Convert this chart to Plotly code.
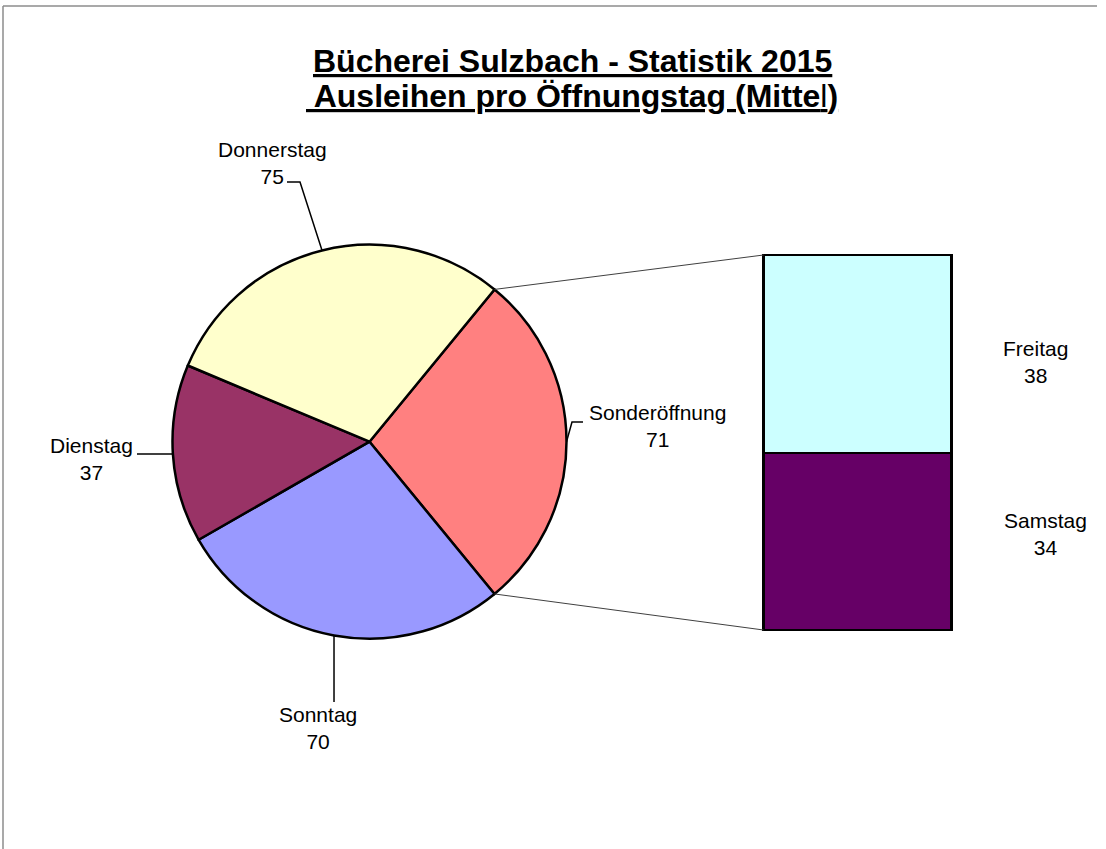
import math
import plotly.graph_objects as go

# ---------------- data ----------------
pie_labels = ["Sonntag", "Dienstag", "Donnerstag"]
pie_values = [70, 37, 75]
bar_labels = ["Freitag", "Samstag"]
bar_values = [37.6, 33.6]
other_label = "Sonderöffnung"
title_line1 = "Bücherei Sulzbach - Statistik 2015"
title_line2 = " Ausleihen pro Öffnungstag (Mitte<span style='font-weight:normal'>l</span>)"

colors = {
    "Sonderöffnung": "#FF8080",
    "Sonntag": "#9999FF",
    "Dienstag": "#993366",
    "Donnerstag": "#FFFFCC",
    "Freitag": "#CCFFFF",
    "Samstag": "#660066",
}

# ---------------- layout constants (pixels) ----------------
W, H = 1106, 849
PIE_CX, PIE_CY, PIE_R = 369.5, 441.7, 197.0
BAR_X0, BAR_X1, BAR_Y0, BAR_Y1 = 763.5, 951.5, 255.0, 630.0
PAD = 4  # extra axis room so the bar outline is not clipped
FONT = "Liberation Sans, Arial, sans-serif"
LABEL_SIZE = 21
TITLE_SIZE = 32

label_pos = {  # text centre
    "Donnerstag": (272, 163),
    "Dienstag": (91, 459),
    "Sonntag": (318, 728),
    "Sonderöffnung": (657, 426),
    "Freitag": (1035.5, 362),
    "Samstag": (1045, 534),
}
leader_pts = {  # leader points after the pie edge point (elbow..., end)
    "Donnerstag": [(300, 182), (287, 182)],
    "Dienstag": [(137, None)],
    "Sonntag": [(None, 702)],
    "Sonderöffnung": [(572, 422), (583, 422)],
}


def px(x):
    return x / W


def py(y):
    return 1 - y / H


# ---------------- derived pie geometry ----------------
other_value = sum(bar_values)
all_labels = [other_label] + pie_labels
all_values = [other_value] + pie_values
total = sum(all_values)
other_span = 360.0 * other_value / total
rotation = 90.0 - other_span / 2.0  # "other" slice centred on the right

fig = go.Figure()

fig.add_trace(go.Pie(
    labels=all_labels,
    values=all_values,
    sort=False,
    direction="clockwise",
    rotation=rotation,
    textinfo="none",
    hoverinfo="label+value",
    showlegend=False,
    marker=dict(colors=[colors[l] for l in all_labels],
                line=dict(color="black", width=2.5)),
    domain=dict(x=[px(PIE_CX - PIE_R), px(PIE_CX + PIE_R)],
                y=[py(PIE_CY + PIE_R), py(PIE_CY - PIE_R)]),
))

# stacked bar (bottom first)
for lab, val in reversed(list(zip(bar_labels, bar_values))):
    fig.add_trace(go.Bar(
        x=[0], y=[val], name=lab, width=1,
        marker=dict(color=colors[lab], line=dict(color="black", width=2.5)),
        showlegend=False, hoverinfo="name+y",
    ))


def pie_point(angle_deg):
    a = math.radians(angle_deg)
    return PIE_CX + PIE_R * math.sin(a), PIE_CY - PIE_R * math.cos(a)


shapes = []
annotations = []

# slice mid angles
start = rotation
mid_angle = {}
for lab, val in zip(all_labels, all_values):
    span = 360.0 * val / total
    mid_angle[lab] = start + span / 2.0
    start += span

# connector lines from "other" slice to bar
p_top = pie_point(rotation)
p_bot = pie_point(rotation + other_span)
for (x0, y0), (x1, y1) in [(p_top, (BAR_X0, BAR_Y0)), (p_bot, (BAR_X0, BAR_Y1))]:
    shapes.append(dict(type="line", xref="paper", yref="paper",
                       x0=px(x0), y0=py(y0), x1=px(x1), y1=py(y1),
                       line=dict(color="#404040", width=1)))

# pie labels + leaders
for lab, val in zip(all_labels, all_values):
    sx, sy = pie_point(mid_angle[lab])
    pts = [(sx, sy)]
    for (lx, ly) in leader_pts[lab]:
        pts.append((sx if lx is None else lx, sy if ly is None else ly))
    path = "M " + " L ".join(f"{px(x):.5f},{py(y):.5f}" for x, y in pts)
    shapes.append(dict(type="path", xref="paper", yref="paper", path=path,
                       line=dict(color="black", width=1.5)))
    tx, ty = label_pos[lab]
    annotations.append(dict(x=px(tx), y=py(ty), xref="paper", yref="paper",
                            text=f"{lab}<br>{val:.0f}", showarrow=False,
                            xanchor="center", yanchor="middle", align="center",
                            font=dict(family=FONT, size=LABEL_SIZE, color="black")))

for lab, val in zip(bar_labels, bar_values):
    tx, ty = label_pos[lab]
    annotations.append(dict(x=px(tx), y=py(ty), xref="paper", yref="paper",
                            text=f"{lab}<br>{val:.0f}", showarrow=False,
                            xanchor="center", yanchor="middle", align="center",
                            font=dict(family=FONT, size=LABEL_SIZE, color="black")))

# title (two lines)
for txt, ty in [(title_line1, 61), (title_line2, 96)]:
    annotations.append(dict(x=px(572), y=py(ty), xref="paper", yref="paper",
                            text=f"<u>{txt}</u>", showarrow=False,
                            xanchor="center", yanchor="middle",
                            font=dict(family=FONT, size=TITLE_SIZE, color="black",
                                      weight="bold")))

# chart border (top and left visible)
shapes.append(dict(type="line", xref="paper", yref="paper",
                   x0=px(3), y0=py(6), x1=px(1097), y1=py(6),
                   line=dict(color="#8c8c8c", width=1.5)))
shapes.append(dict(type="line", xref="paper", yref="paper",
                   x0=px(3), y0=py(6), x1=px(3), y1=py(H + 5),
                   line=dict(color="#8c8c8c", width=1.5)))

# bar axes: padded domain with matching padded range (bar keeps its pixel size)
y_per_px = other_value / (BAR_Y1 - BAR_Y0)
x_per_px = 1.0 / (BAR_X1 - BAR_X0)

fig.update_layout(
    width=W, height=H,
    margin=dict(l=0, r=0, t=0, b=0),
    paper_bgcolor="white", plot_bgcolor="rgba(0,0,0,0)",
    barmode="stack",
    xaxis=dict(domain=[px(BAR_X0 - PAD), px(BAR_X1 + PAD)],
               range=[-0.5 - PAD * x_per_px, 0.5 + PAD * x_per_px],
               visible=False, fixedrange=True),
    yaxis=dict(domain=[py(BAR_Y1 + PAD), py(BAR_Y0 - PAD)],
               range=[-PAD * y_per_px, other_value + PAD * y_per_px],
               visible=False, fixedrange=True),
    shapes=shapes,
    annotations=annotations,
    font=dict(family=FONT),
)

fig.write_html("out.html",
               config={"displayModeBar": False},
               post_script="document.body.style.margin='0';"
                           "document.body.style.overflow='hidden';")
